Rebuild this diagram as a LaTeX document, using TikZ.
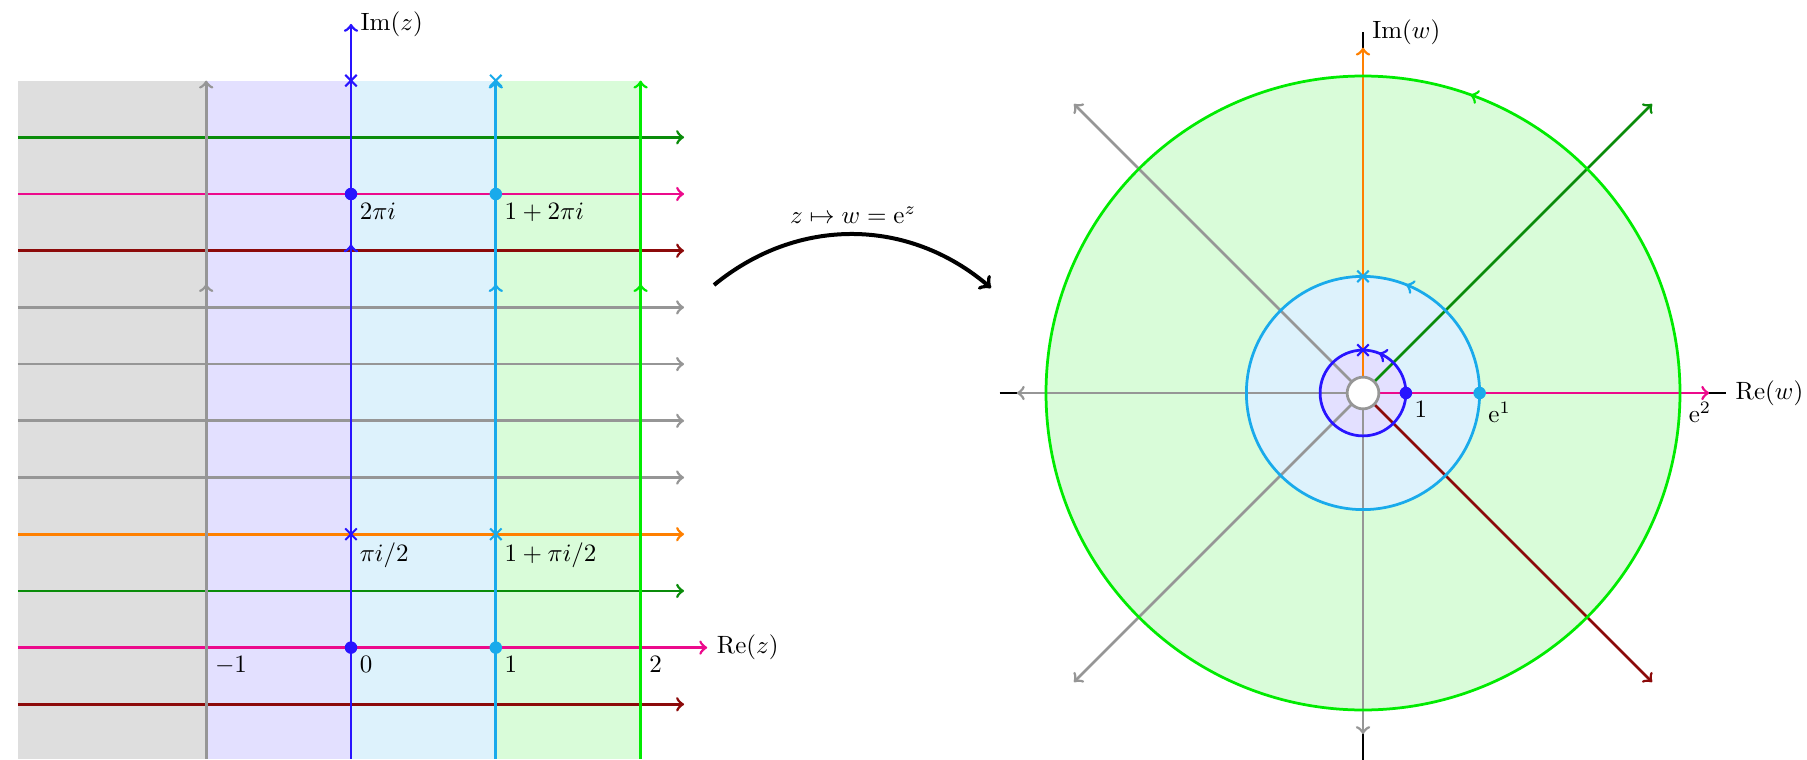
\documentclass[tikz,border=0pt]{standalone}
\usepackage{amsmath,amssymb}
\usepackage{xcolor}
\usepackage{tikz}
\usetikzlibrary{decorations.markings,shapes.misc}

\definecolor{rayPink}{RGB}{236,10,140}
\definecolor{rayGreen}{RGB}{10,140,10}
\definecolor{rayOrange}{RGB}{255,128,0}
\definecolor{rayRed}{RGB}{140,10,10}
\definecolor{rayGray}{RGB}{150,150,150}
\definecolor{lineBlue}{RGB}{40,20,255}
\definecolor{lineCyan}{RGB}{25,170,235}
\definecolor{lineLime}{RGB}{0,235,0}

\begin{document}
\begin{tikzpicture}[
  zline/.style={line width=1.1pt, ->},
  midarrow/.style={postaction={decorate},
    decoration={markings, mark=at position #1 with {\arrow{>}}}},
  dot/.style={circle, fill, inner sep=0pt, minimum size=5pt},
  crossmark/.style={cross out, draw, thick, inner sep=0pt, minimum size=3.8pt},
  lbl/.style={anchor=north west}]
  \useasboundingbox (0,0) rectangle (722.8pt,303.6pt);

  % z-plane, vertical unit = pi/4
  \begin{scope}[shift={(140.4pt,44.56pt)}, x=57.92pt, y=22.68pt]
    \fill[black!13] (-2.3,-1.96) rectangle (-1,10);
    \fill[lineBlue!13] (-1,-1.96) rectangle (0,10);
    \fill[lineCyan!15] (0,-1.96) rectangle (1,10);
    \fill[lineLime!15] (1,-1.96) rectangle (2,10);
    \foreach \k/\c in {-1/rayRed, 1/rayGreen, 2/rayOrange, 3/rayGray, 4/rayGray,
                       5/rayGray, 6/rayGray, 7/rayRed, 8/rayPink, 9/rayGreen}
      \draw[zline, \c] (-2.3,\k) -- (2.3,\k);
    \draw[zline, rayPink] (-2.3,0) -- (2.46,0) node[right, black] (rez) {$\mathrm{Re}(z)$};
    \draw[zline, rayGray, midarrow=0.7] (-1,-1.96) -- (-1,10);
    \draw[zline, lineBlue, midarrow=0.7] (0,-1.96) -- (0,11) node[right, black] (imz) {$\mathrm{Im}(z)$};
    \draw[zline, lineCyan, midarrow=0.7] (1,-1.96) -- (1,10);
    \draw[zline, lineLime, midarrow=0.7] (2,-1.96) -- (2,10);
    \node[crossmark, lineBlue] (zcrossA) at (0,2) {};
    \node[crossmark, lineCyan] (zcrossB) at (1,2) {};
    \node[crossmark, lineBlue] (zcrossC) at (0,10) {};
    \node[crossmark, lineCyan] (zcrossD) at (1,10) {};
    \node[dot, lineBlue] (zdotA) at (0,0) {};
    \node[dot, lineCyan] (zdotB) at (1,0) {};
    \node[dot, lineBlue] (zdotC) at (0,8) {};
    \node[dot, lineCyan] (zdotD) at (1,8) {};
    \node[lbl] (zlabm) at (-1,0) {$-1$};
    \node[lbl] (zlab0) at (0,0) {$0$};
    \node[lbl] (zlab1) at (1,0) {$1$};
    \node[lbl] (zlab2) at (2,0) {$2$};
    \node[lbl] (zlabA) at (0,2) {$\pi i/2$};
    \node[lbl] (zlabB) at (1,2) {$1+\pi i/2$};
    \node[lbl] (zlabC) at (0,8) {$2\pi i$};
    \node[lbl] (zlabD) at (1,8) {$1+2\pi i$};
  \end{scope}

  % the map
  \coordinate (mapstart) at (285.6pt,189.6pt);
  \coordinate (mapend) at (396.4pt,188.4pt);
  \draw[->, line width=1.6pt] (mapstart) to[bend left=40]
    node[above] (maplabel) {$z\mapsto w=\mathrm{e}^z$} (mapend);

  % w-plane
  \begin{scope}[shift={(545.2pt,146.4pt)}, x=17.16pt, y=17.16pt]
    \draw[thick] (-8.47,0) -- (8.47,0) node[right] (rew) {$\mathrm{Re}(w)$};
    \draw[thick] (0,-8.55) -- (0,8.42) node[right] (imw) {$\mathrm{Im}(w)$};
    \fill[lineLime!15] (0,0) circle[radius={exp(2)}];
    \fill[lineCyan!15] (0,0) circle[radius={exp(1)}];
    \fill[lineBlue!13] (0,0) circle[radius=1];
    \foreach \a/\len/\c in {0/8.07/rayPink, 45/9.53/rayGreen, 90/8.05/rayOrange,
                            135/9.53/rayGray, 180/8.07/rayGray, 225/9.53/rayGray,
                            270/7.95/rayGray, 315/9.53/rayRed}
      \draw[zline, \c] (\a:0.37) -- (\a:\len);
    \draw[zline, -, lineBlue, midarrow=0.19] (1,0) arc[start angle=0, end angle=360, radius=1];
    \draw[zline, -, lineCyan, midarrow=0.19] ({exp(1)},0) arc[start angle=0, end angle=360, radius={exp(1)}];
    \draw[zline, -, lineLime, midarrow=0.195] ({exp(2)},0) arc[start angle=0, end angle=360, radius={exp(2)}];
    \draw[zline, -, rayGray, fill=white] (0,0) circle[radius=0.37];
    \node[crossmark, lineBlue] (wcrossA) at (0,1) {};
    \node[crossmark, lineCyan] (wcrossB) at (0,{exp(1)}) {};
    \node[dot, lineBlue] (wdotA) at (1,0) {};
    \node[dot, lineCyan] (wdotB) at ({exp(1)},0) {};
    \node[lbl] (wlab1) at (1,0) {$1$};
    \node[lbl] (wlabe) at ({exp(1)},0) {$\mathrm{e}^1$};
    \node[lbl] (wlabee) at ({exp(2)},0) {$\mathrm{e}^2$};
  \end{scope}
\end{tikzpicture}
\end{document}
